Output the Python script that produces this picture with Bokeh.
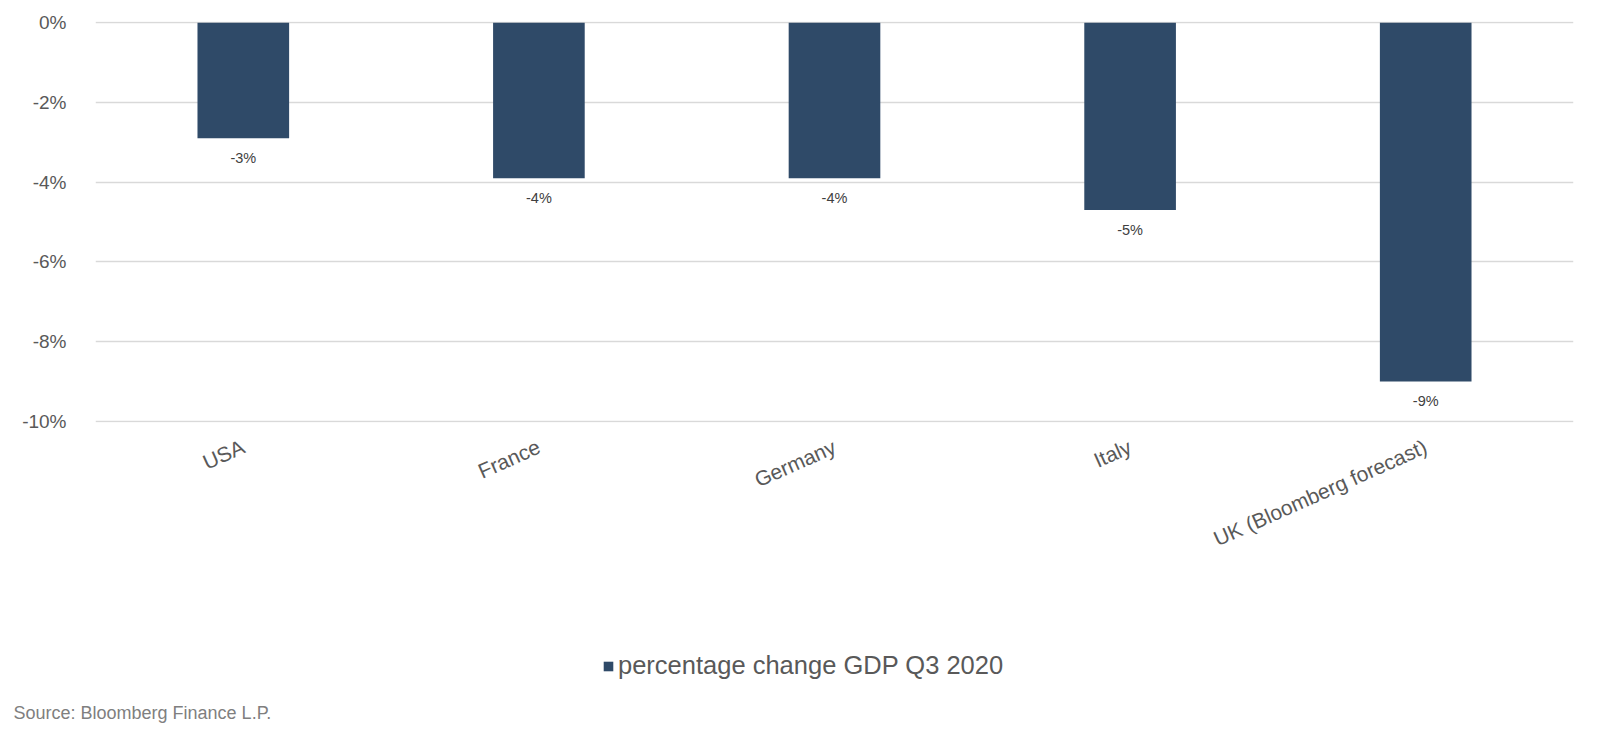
from bokeh.plotting import figure
from bokeh.models import (ColumnDataSource, FixedTicker, PrintfTickFormatter, Range1d,
                          FactorRange, Legend, LegendItem, Label)
from bokeh.core.properties import value
from bokeh.embed import file_html
from bokeh.resources import INLINE

countries = ["USA", "France", "Germany", "Italy", "UK (Bloomberg forecast)"]
gdp_change = [-2.9, -3.9, -3.9, -4.7, -9.0]
y_ticks = [0, -2, -4, -6, -8, -10]
series_name = "percentage change GDP Q3 2020"
source_note = "Source: Bloomberg Finance L.P."

labels = [f"{round(v):.0f}%" for v in gdp_change]
src = ColumnDataSource(dict(country=countries, val=gdp_change, lab=labels))

FONT = "Liberation Sans"
BAR = "#2f4a68"
W = 1592

x_range = FactorRange(*countries, range_padding=0)

p = figure(x_range=x_range, y_range=Range1d(-10.03, 0.03),
           width=W, height=600, output_backend="svg", toolbar_location=None,
           min_border_left=95, min_border_right=19, min_border_top=21, min_border_bottom=178)
p.outline_line_color = None
p.background_fill_color = "white"
p.border_fill_color = "white"

p.vbar(x="country", top="val", bottom=0, width=0.31, source=src,
       fill_color=BAR, line_color=None)

p.text(x="country", y="val", text="lab", source=src, text_align="center",
       text_baseline="middle", y_offset=20, text_font=value(FONT),
       text_font_size="14.5px", text_color="#404040")

p.xgrid.grid_line_color = None
p.ygrid.grid_line_color = "#d9d9d9"
p.ygrid.grid_line_width = 1.5
p.ygrid.ticker = FixedTicker(ticks=y_ticks)

p.yaxis.ticker = FixedTicker(ticks=y_ticks)
p.yaxis.formatter = PrintfTickFormatter(format="%d%%")
p.yaxis.axis_line_color = None
p.yaxis.major_tick_line_color = None
p.yaxis.minor_tick_line_color = None
p.yaxis.major_label_text_font = FONT
p.yaxis.major_label_text_font_size = "19px"
p.yaxis.major_label_text_color = "#595959"
p.yaxis.major_label_standoff = 23

p.xaxis.axis_line_color = None
p.xaxis.major_tick_line_color = None
p.xaxis.major_label_text_font = FONT
p.xaxis.major_label_text_font_size = "21px"
p.xaxis.major_label_text_color = "#595959"
p.xaxis.major_label_orientation = 0.42
p.xaxis.major_label_standoff = 17

# footer panel: legend + source note (series drawn again, kept out of view, as legend proxy)
p2 = figure(x_range=x_range, y_range=Range1d(100, 200), width=W, height=130,
            output_backend="svg", toolbar_location=None,
            x_axis_location=None, y_axis_location=None,
            min_border_left=0, min_border_right=0, min_border_top=0, min_border_bottom=0)
p2.outline_line_color = None
p2.grid.visible = False
proxy = p2.vbar(x="country", top="val", bottom=0, width=0.31, source=src,
                fill_color=BAR, line_color=None)

legend = Legend(items=[LegendItem(label=series_name, renderers=[proxy])],
                location=(602, 50), orientation="horizontal",
                label_text_font=FONT, label_text_font_size="25.5px",
                label_text_color="#595959", glyph_width=12, glyph_height=12,
                label_standoff=4, padding=0, margin=0, spacing=0,
                border_line_color=None, background_fill_alpha=0)
p2.add_layout(legend, "center")

p2.add_layout(Label(x=13, y=18, x_units="screen", y_units="screen", text=source_note,
                    text_font=FONT, text_font_size="18px", text_color="#7f7f7f",
                    text_baseline="middle"))

open("out.html", "w").write(file_html([p, p2], INLINE))
